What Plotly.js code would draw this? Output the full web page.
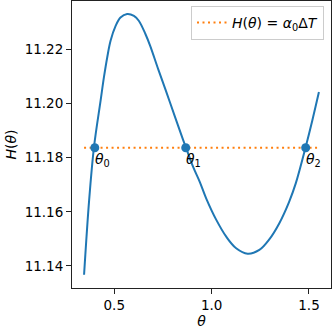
<!DOCTYPE html>
<html>
<head>
<meta charset="utf-8">
<script src="https://cdn.plot.ly/plotly-3.0.1.min.js"></script>
<style>html,body{margin:0;padding:0;background:#fff}#chart{width:332px;height:332px}</style>
</head>
<body>
<div id="chart"></div>
<script>
const theta = [0.345,0.371,0.396,0.430,0.447,0.464,0.481,0.507,0.532,0.566,0.601,0.626,0.660,0.684,0.726,0.769,0.811,0.854,0.867,0.905,0.939,0.973,1.024,1.075,1.126,1.185,1.245,1.296,1.347,1.398,1.432,1.483,1.517,1.551];
const H = [11.1367,11.1643,11.184,11.2012,11.2098,11.2172,11.2233,11.2288,11.2319,11.2332,11.2325,11.2307,11.2258,11.2215,11.2127,11.204,11.1953,11.1865,11.184,11.1766,11.1711,11.1648,11.157,11.1508,11.1465,11.1445,11.1459,11.1498,11.1557,11.1637,11.1705,11.184,11.1938,11.2043];
const levelTheta = [0.345, 1.551];
const levelH = 11.1837;
const rootTheta = [0.400, 0.867, 1.483];
const rootLabels = ['<i>θ</i><sub>0</sub>', '<i>θ</i><sub>1</sub>', '<i>θ</i><sub>2</sub>'];
const xTicks = [0.5, 1.0, 1.5];
const xTickText = ['0.5', '1.0', '1.5'];
const yTicks = [11.14, 11.16, 11.18, 11.20, 11.22];
const yTickText = ['11.14', '11.16', '11.18', '11.20', '11.22'];

const font = 'DejaVu Sans, sans-serif';
const traces = [
  {x: theta, y: H, mode: 'lines', line: {color: '#1f77b4', width: 2, shape: 'spline', smoothing: 1}, showlegend: false},
  {x: levelTheta, y: levelTheta.map(() => levelH), mode: 'lines', line: {color: '#ff7f0e', width: 2, dash: '2px,3.5px'},
   name: '<i>H</i>(<i>θ</i>) = <i>α</i><sub>0</sub>Δ<i>T</i>'},
  {x: rootTheta, y: rootTheta.map(() => levelH), mode: 'markers', marker: {color: '#1f77b4', size: 9}, showlegend: false}
];
const axisCommon = {showline: true, mirror: true, linecolor: '#222', linewidth: 1, ticks: 'outside', ticklen: 5, tickwidth: 1, tickcolor: '#222', showgrid: false, zeroline: false, tickfont: {family: font, size: 13.5, color: '#000'}};
const layout = {
  width: 332, height: 332,
  margin: {l: 72, r: 1, t: 1, b: 44},
  paper_bgcolor: '#fff', plot_bgcolor: '#fff',
  font: {family: font, color: '#000'},
  xaxis: Object.assign({}, axisCommon, {range: [0.283, 1.613], tickvals: xTicks, ticktext: xTickText,
    title: {text: '<i>θ</i>', font: {family: font, size: 14}, standoff: 2}}),
  yaxis: Object.assign({}, axisCommon, {range: [11.1318, 11.238], tickvals: yTicks, ticktext: yTickText,
    title: {text: '<i>H</i>(<i>θ</i>)', font: {family: font, size: 14}, standoff: 4}}),
  legend: {x: 0.973, y: 0.983, xanchor: 'right', yanchor: 'top', bgcolor: 'rgba(255,255,255,0.8)', bordercolor: '#ccc', borderwidth: 1,
    font: {family: font, size: 14}},
  annotations: rootTheta.map((t, i) => ({x: t, y: levelH, xref: 'x', yref: 'y', text: rootLabels[i], showarrow: false,
    xanchor: 'left', yanchor: 'top', xshift: -2, yshift: -1, font: {family: font, size: 14, color: '#000'}}))
};
Plotly.newPlot('chart', traces, layout, {staticPlot: true, displayModeBar: false});
</script>
</body>
</html>
